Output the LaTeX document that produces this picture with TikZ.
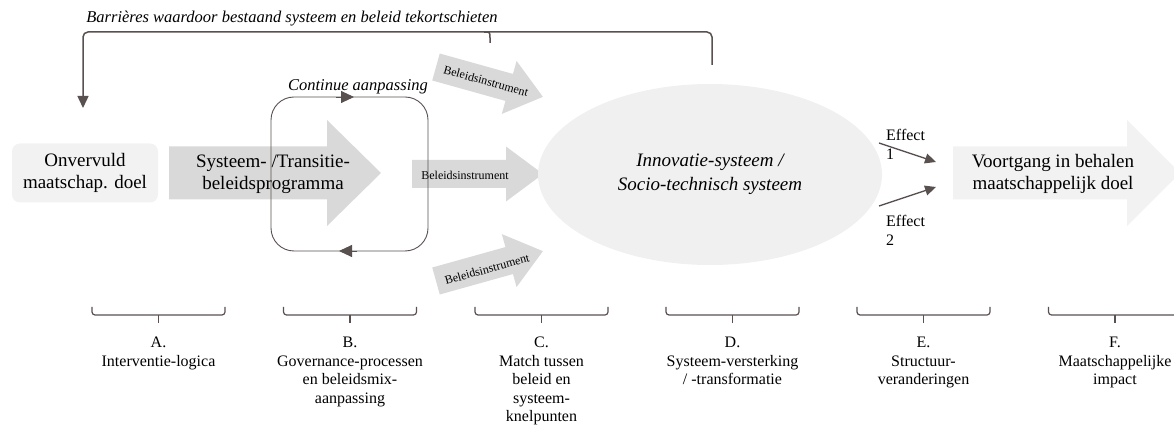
\documentclass[tikz,border=0pt]{standalone}
\usepackage{fontspec}
\setmainfont{Liberation Serif}
\usetikzlibrary{arrows.meta,shapes.geometric}
\definecolor{lineC}{RGB}{89,80,80}
\definecolor{lightF}{RGB}{242,242,242}
\definecolor{ellF}{RGB}{240,240,240}
\definecolor{arrF}{RGB}{217,217,217}
% #1 tail, #2 angle, #3 length, #4 head length, #5 body half width, #6 head half width, #7 colour
\newcommand{\flowarrow}[7]{%
  \begin{scope}[shift={#1},rotate=#2]
    \fill[#7] (0,-#5) -- ({#3-#4},-#5) -- ({#3-#4},-#6) -- (#3,0) -- ({#3-#4},#6) -- ({#3-#4},#5) -- (0,#5) -- cycle;
  \end{scope}}
% #1 centre x, #2 name, #3 text
\newcommand{\phasebrace}[3]{%
  \draw[bracel, rounded corners=3pt] ({#1-66.5},307) -- ({#1-66.5},315) -- ({#1+66.5},315) -- ({#1+66.5},307);
  \draw[bracel] (#1,315) -- (#1,323);
  \node[stagelbl] (#2) at (#1,337) {#3};}
\begin{document}
\begin{tikzpicture}[x=1pt,y=-1pt,
  mainlbl/.style={font=\fontsize{19}{22}\selectfont, align=center, inner sep=0pt},
  stagelbl/.style={font=\fontsize{16}{18.5}\selectfont, align=center, inner sep=0pt, anchor=north},
  efflbl/.style={font=\fontsize{16}{19.5}\selectfont, align=left, inner sep=0pt, anchor=north west},
  instr/.style={font=\fontsize{12}{14}\selectfont, inner sep=0pt},
  italbl/.style={font=\itshape\fontsize{16.5}{19}\selectfont, inner sep=0pt},
  fbline/.style={draw=lineC, line width=1.5pt},
  eff/.style={draw=lineC, line width=1.3pt, -{Triangle[length=11pt,width=10pt]}},
  loopbox/.style={draw=lineC, line width=0.9pt, rounded corners=23pt},
  looparr/.style={draw=lineC, line width=0.9pt, -{Triangle[length=13pt,width=12pt]}},
  bracel/.style={draw=lineC, line width=1.2pt}]
\path[use as bounding box] (0,0) rectangle (1174,427);

% big shapes
\flowarrow{(169,173)}{0}{212}{54}{26.5}{53}{arrF}
\flowarrow{(953,173)}{0}{227}{53}{26.5}{53}{lightF}
\flowarrow{(436,67)}{-15.6}{111}{35}{14}{27.5}{arrF}
\flowarrow{(412,174)}{0}{131}{37}{14}{27.5}{arrF}
\flowarrow{(436,281)}{15.6}{111}{35}{14}{27.5}{arrF}

\node[mainlbl, fill=lightF, rounded corners=8pt, minimum width=146pt, minimum height=59pt] (goal) at (85,173) {Onvervuld\\maatschap. doel};
\node[mainlbl] (prog) at (273,174) {Systeem- /Transitie-\\beleidsprogramma};
\node[ellipse, fill=ellF, minimum width=344pt, minimum height=181pt, inner sep=0pt, align=center, font=\itshape\fontsize{19}{24}\selectfont] (sys) at (710,174.5) {Innovatie-systeem /\\Socio-technisch systeem};
\node[mainlbl] (imp) at (1053,174) {Voortgang in behalen\\maatschappelijk doel};

\node[instr, rotate=-15.6] (b1) at (486,81) {Beleidsinstrument};
\node[instr] (b2) at (465,175) {Beleidsinstrument};
\node[instr, rotate=15.6] (b3) at (487,269) {Beleidsinstrument};

% continuous adaptation loop
\draw[loopbox] (271,251) rectangle (428,97);
\coordinate (lt1) at (336,97); \coordinate (lt2) at (354,97);
\coordinate (lb1) at (357,251); \coordinate (lb2) at (339,251);
\draw[looparr] (lt1) -- (lt2);
\draw[looparr] (lb1) -- (lb2);
\node[italbl] (cont) at (358,87) {Continue aanpassing};

% feedback line
\node[italbl] (title) at (292,19) {Barrières waardoor bestaand systeem en beleid tekortschieten};
\coordinate (fbs) at (712,65);
\coordinate (fbe) at (83,108);
\draw[fbline, rounded corners=5pt, -{Triangle[length=12pt,width=11pt]}] (fbs) |- (83,32) -- (fbe);
\draw[fbline] (484,32) .. controls (490,32) .. (490,38) -- (490,43);

% effects
\coordinate (e1s) at (879,143); \coordinate (e1t) at (936,162);
\coordinate (e2s) at (879,206); \coordinate (e2t) at (936,187);
\draw[eff] (e1s) -- (e1t);
\draw[eff] (e2s) -- (e2t);
\node[efflbl] (ef1) at (886,129) {Effect\\1};
\node[efflbl] (ef2) at (886,215) {Effect\\2};

% phases
\phasebrace{158.5}{lA}{A.\\Interventie-logica}
\phasebrace{350}{lB}{B.\\Governance-processen\\en beleidsmix-\\aanpassing}
\phasebrace{541.5}{lC}{C.\\Match tussen\\beleid en\\systeem-\\knelpunten}
\phasebrace{732.5}{lD}{D.\\Systeem-versterking\\/ -transformatie}
\phasebrace{923.5}{lE}{E.\\Structuur-\\veranderingen}
\phasebrace{1115}{lF}{F.\\Maatschappelijke\\impact}
\end{tikzpicture}
\end{document}
